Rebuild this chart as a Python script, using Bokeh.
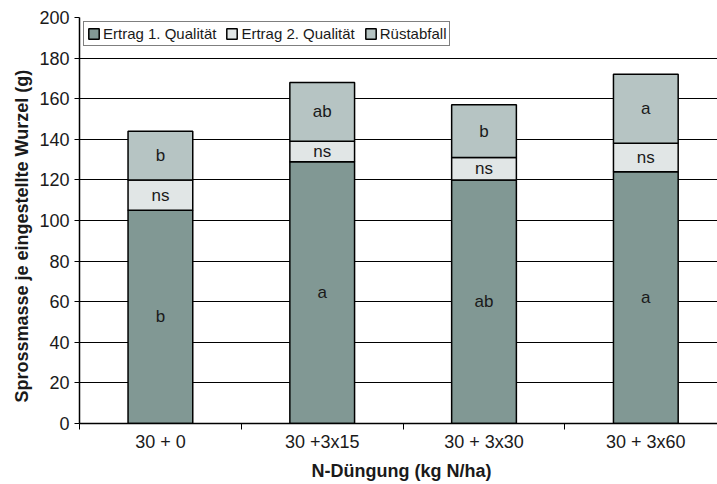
from bokeh.plotting import figure
from bokeh.models import ColumnDataSource, FixedTicker, Range1d, Title
from bokeh.core.properties import value
from bokeh.embed import file_html
from bokeh.resources import INLINE

categories = ["30 + 0", "30 +3x15", "30 + 3x30", "30 + 3x60"]
ertrag1 = [105, 129, 120, 124]
ertrag2 = [15, 10, 11, 14]
ruestabfall = [24, 29, 26, 34]
sig_ertrag1 = ["b", "a", "ab", "a"]
sig_ertrag2 = ["ns", "ns", "ns", "ns"]
sig_ruest = ["b", "ab", "b", "a"]
series_names = ["Ertrag 1. Qualität", "Ertrag 2. Qualität", "Rüstabfall"]
y_ticks = [0, 20, 40, 60, 80, 100, 120, 140, 160, 180, 200]
x_title = "N-Düngung (kg N/ha)"
y_title = "Sprossmasse je eingestellte  Wurzel (g)"

FONT = "Liberation Sans"
colors = ["#819894", "#e1e6e6", "#b6c4c3"]

xs = [i + 0.5 for i in range(len(categories))]
src = ColumnDataSource(dict(x=xs, e1=ertrag1, e2=ertrag2, r=ruestabfall))

p = figure(width=717, height=484, output_backend="svg", toolbar_location=None,
           x_range=Range1d(0, 3.943), y_range=Range1d(0, 200),
           min_border_left=79, min_border_right=0, min_border_top=17, min_border_bottom=60)
p.outline_line_color = None
p.background_fill_color = "white"

p.vbar_stack(["e1", "e2", "r"], x="x", width=0.4, source=src,
             fill_color=colors, line_color="black", line_width=1.5,
             legend_label=series_names)

# significance letters centred in each segment
lab_x, lab_y, lab_t = [], [], []
for i in range(len(categories)):
    b = 0
    for vals, sig in ((ertrag1, sig_ertrag1), (ertrag2, sig_ertrag2), (ruestabfall, sig_ruest)):
        lab_x.append(xs[i])
        lab_y.append(b + vals[i] / 2)
        lab_t.append(sig[i])
        b += vals[i]
p.text(x=lab_x, y=lab_y, text=lab_t, text_align="center", text_baseline="middle",
       text_font=value(FONT), text_font_size="17px", text_color="#1a1a1a")

# grid
p.xgrid.visible = False
p.ygrid.ticker = FixedTicker(ticks=y_ticks)
p.ygrid.grid_line_color = "black"
p.ygrid.grid_line_width = 1.2

# y axis
p.yaxis.ticker = FixedTicker(ticks=y_ticks)
p.yaxis.major_label_text_font = FONT
p.yaxis.major_label_text_font_size = "18px"
p.yaxis.major_label_text_color = "#1a1a1a"
p.yaxis.major_label_standoff = 5
p.yaxis.major_tick_out = 5
p.yaxis.major_tick_in = 0
p.yaxis.minor_tick_line_color = None
p.yaxis.axis_line_color = "black"
p.yaxis.axis_line_width = 1.5
p.yaxis.major_tick_line_color = "black"

# x axis
p.xaxis.ticker = FixedTicker(ticks=xs, minor_ticks=list(range(len(categories))))
p.xaxis.major_label_overrides = {x: c for x, c in zip(xs, categories)}
p.xaxis.major_label_text_font = FONT
p.xaxis.major_label_text_font_size = "18px"
p.xaxis.major_label_text_color = "#1a1a1a"
p.xaxis.major_label_standoff = 2
p.xaxis.major_tick_out = 0
p.xaxis.major_tick_in = 0
p.xaxis.major_tick_line_color = None
p.xaxis.minor_tick_out = 6
p.xaxis.minor_tick_in = 0
p.xaxis.minor_tick_line_color = "black"
p.xaxis.axis_line_color = "black"
p.xaxis.axis_line_width = 1.5

# axis titles (as titles so they can be placed along the axis)
p.add_layout(Title(text=x_title, align="left", offset=232, standoff=8,
                   text_font=FONT, text_font_size="18px", text_font_style="bold",
                   text_color="#1a1a1a"), "below")
p.add_layout(Title(text=y_title, align="left", offset=21, standoff=10,
                   text_font=FONT, text_font_size="18px", text_font_style="bold",
                   text_color="#1a1a1a"), "left")

# legend
lg = p.legend[0]
lg.location = (4, 377)
lg.orientation = "horizontal"
lg.border_line_color = "black"
lg.border_line_width = 1
lg.background_fill_color = "white"
lg.background_fill_alpha = 1
lg.padding = 3
lg.margin = 0
lg.spacing = 9
lg.glyph_width = 13
lg.glyph_height = 13
lg.label_standoff = 3
lg.label_height = 15
lg.label_text_font = FONT
lg.label_text_font_size = "15px"
lg.label_text_color = "#1a1a1a"

open("out.html", "w").write(file_html(p, INLINE))
